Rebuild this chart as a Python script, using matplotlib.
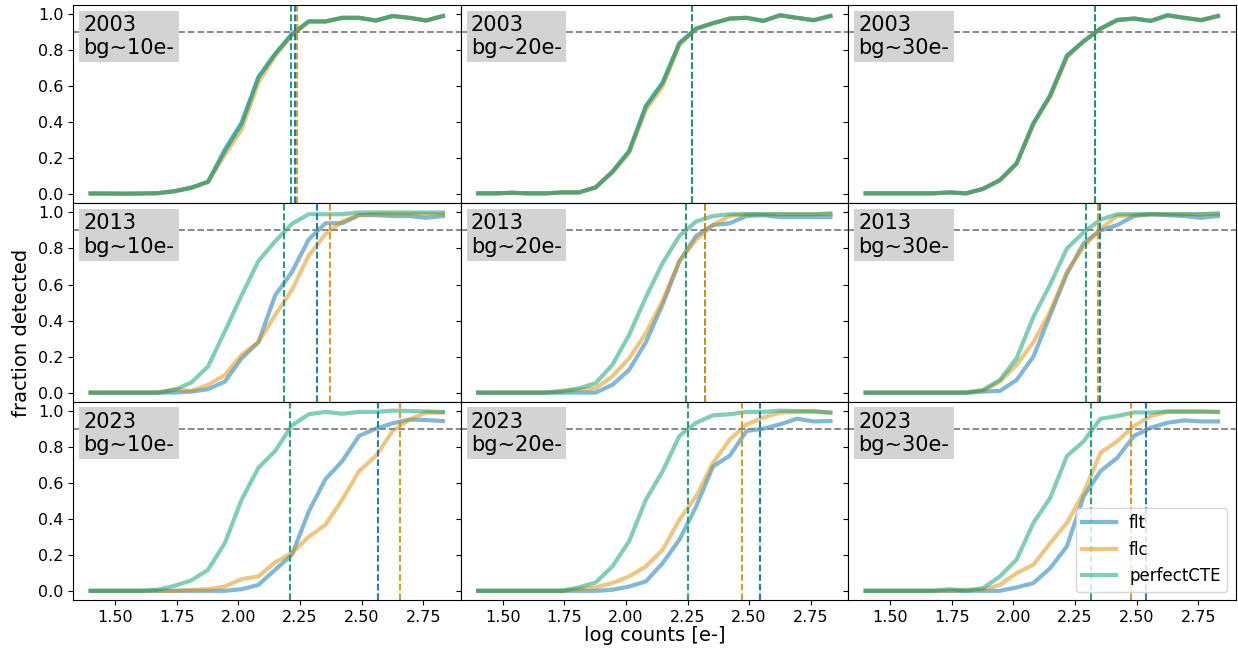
import numpy as np
import matplotlib
matplotlib.use("Agg")
import matplotlib.pyplot as plt

# bins in log counts
x = np.linspace(1.40, 2.83, 22)

years = ["2003", "2013", "2023"]
bgs = ["10", "20", "30"]
labels = ["flt", "flc", "perfectCTE"]
colors = ["#0173b2", "#de8f05", "#029e73"]

# fraction detected, one list per background (10, 20, 30 e-)
flt_2003 = [
    [0.005, 0.005, 0.004, 0.005, 0.007, 0.018, 0.037, 0.07, 0.25, 0.40, 0.65, 0.78, 0.89, 0.96, 0.96, 0.98, 0.98, 0.965, 0.99, 0.98, 0.965, 0.99],
    [0.006, 0.006, 0.009, 0.006, 0.006, 0.011, 0.011, 0.039, 0.126, 0.24, 0.49, 0.62, 0.84, 0.92, 0.95, 0.976, 0.98, 0.963, 0.994, 0.98, 0.967, 0.99],
    [0.006, 0.006, 0.006, 0.006, 0.006, 0.011, 0.006, 0.031, 0.079, 0.172, 0.394, 0.55, 0.77, 0.85, 0.92, 0.97, 0.976, 0.963, 0.994, 0.98, 0.967, 0.99],
]
flc_2003 = [
    [0.005, 0.005, 0.004, 0.005, 0.007, 0.018, 0.037, 0.07, 0.22, 0.36, 0.62, 0.77, 0.88, 0.96, 0.96, 0.98, 0.98, 0.965, 0.99, 0.98, 0.965, 0.99],
    [0.006, 0.006, 0.009, 0.006, 0.006, 0.011, 0.011, 0.039, 0.12, 0.23, 0.47, 0.60, 0.83, 0.92, 0.95, 0.976, 0.98, 0.963, 0.994, 0.98, 0.967, 0.99],
    [0.006, 0.006, 0.006, 0.006, 0.006, 0.011, 0.006, 0.031, 0.079, 0.17, 0.39, 0.54, 0.76, 0.85, 0.92, 0.965, 0.976, 0.963, 0.994, 0.98, 0.967, 0.99],
]
cte_2003 = [
    [0.005, 0.005, 0.004, 0.005, 0.007, 0.018, 0.037, 0.07, 0.24, 0.39, 0.65, 0.78, 0.89, 0.96, 0.96, 0.98, 0.98, 0.965, 0.99, 0.98, 0.965, 0.99],
    [0.006, 0.006, 0.009, 0.006, 0.006, 0.011, 0.011, 0.039, 0.126, 0.24, 0.49, 0.62, 0.84, 0.92, 0.95, 0.976, 0.98, 0.963, 0.994, 0.98, 0.967, 0.99],
    [0.006, 0.006, 0.006, 0.006, 0.006, 0.011, 0.006, 0.031, 0.079, 0.172, 0.394, 0.55, 0.77, 0.85, 0.92, 0.967, 0.976, 0.963, 0.994, 0.98, 0.967, 0.99],
]

flt_2013 = [
    [0.0, 0.0, 0.0, 0.0, 0.0, 0.0, 0.006, 0.019, 0.061, 0.19, 0.28, 0.54, 0.67, 0.85, 0.94, 0.94, 0.985, 0.985, 0.98, 0.98, 0.97, 0.98],
    [0.0, 0.0, 0.0, 0.0, 0.0, 0.0, 0.0, 0.0, 0.043, 0.126, 0.28, 0.49, 0.73, 0.87, 0.93, 0.94, 0.98, 0.985, 0.974, 0.974, 0.974, 0.974],
    [0.0, 0.0, 0.0, 0.0, 0.0, 0.0, 0.0, 0.006, 0.009, 0.07, 0.20, 0.43, 0.66, 0.83, 0.90, 0.93, 0.98, 0.99, 0.985, 0.98, 0.97, 0.98],
]
flc_2013 = [
    [0.0, 0.0, 0.0, 0.0, 0.0, 0.019, 0.009, 0.043, 0.098, 0.21, 0.28, 0.43, 0.57, 0.76, 0.88, 0.95, 0.985, 0.99, 0.99, 0.99, 0.99, 0.99],
    [0.0, 0.0, 0.0, 0.0, 0.0, 0.011, 0.015, 0.024, 0.09, 0.19, 0.33, 0.51, 0.73, 0.85, 0.93, 0.98, 0.99, 0.99, 0.99, 0.99, 0.99, 0.99],
    [0.0, 0.0, 0.0, 0.0, 0.0, 0.0, 0.0, 0.009, 0.061, 0.154, 0.28, 0.45, 0.67, 0.81, 0.91, 0.98, 0.985, 0.99, 0.99, 0.99, 0.99, 0.99],
]
cte_2013 = [
    [0.0, 0.0, 0.0, 0.0, 0.0, 0.015, 0.056, 0.145, 0.34, 0.54, 0.73, 0.84, 0.937, 0.99, 0.99, 0.99, 1.0, 1.0, 1.0, 1.0, 1.0, 1.0],
    [0.0, 0.0, 0.0, 0.0, 0.0, 0.006, 0.024, 0.052, 0.154, 0.32, 0.53, 0.72, 0.87, 0.95, 0.98, 0.99, 0.99, 0.99, 0.99, 0.99, 0.99, 0.995],
    [0.0, 0.0, 0.0, 0.0, 0.0, 0.0, 0.0, 0.015, 0.07, 0.19, 0.42, 0.60, 0.80, 0.89, 0.96, 0.99, 0.99, 0.99, 0.99, 0.99, 0.99, 0.995],
]

flt_2023 = [
    [0.0, 0.0, 0.0, 0.0, 0.0, 0.0, 0.0, 0.0, 0.0, 0.009, 0.033, 0.117, 0.20, 0.44, 0.62, 0.72, 0.86, 0.90, 0.93, 0.95, 0.948, 0.942],
    [0.0, 0.0, 0.0, 0.0, 0.0, 0.0, 0.0, 0.0, 0.006, 0.024, 0.052, 0.154, 0.284, 0.469, 0.69, 0.75, 0.887, 0.90, 0.924, 0.955, 0.94, 0.942],
    [0.0, 0.0, 0.0, 0.0, 0.0, 0.0, 0.0, 0.0, 0.0, 0.019, 0.043, 0.126, 0.247, 0.525, 0.664, 0.738, 0.86, 0.905, 0.933, 0.946, 0.94, 0.94],
]
flc_2023 = [
    [0.0, 0.0, 0.0, 0.0, 0.0, 0.0, 0.006, 0.009, 0.024, 0.065, 0.08, 0.158, 0.21, 0.30, 0.367, 0.506, 0.664, 0.748, 0.887, 0.95, 0.989, 0.989],
    [0.0, 0.0, 0.0, 0.0, 0.0, 0.0, 0.009, 0.019, 0.043, 0.08, 0.135, 0.228, 0.395, 0.525, 0.71, 0.84, 0.924, 0.961, 0.989, 0.993, 0.996, 0.989],
    [0.0, 0.0, 0.0, 0.0, 0.0, 0.0, 0.006, 0.006, 0.033, 0.098, 0.145, 0.265, 0.377, 0.544, 0.766, 0.83, 0.915, 0.97, 0.993, 0.993, 0.993, 0.993],
]
cte_2023 = [
    [0.0, 0.0, 0.0, 0.0, 0.006, 0.028, 0.058, 0.117, 0.265, 0.506, 0.683, 0.776, 0.918, 0.98, 0.993, 0.983, 0.993, 0.993, 1.0, 0.998, 0.996, 0.993],
    [0.0, 0.0, 0.0, 0.0, 0.0, 0.0, 0.019, 0.046, 0.135, 0.275, 0.506, 0.664, 0.86, 0.933, 0.974, 0.98, 0.993, 0.993, 1.0, 0.998, 0.996, 0.989],
    [0.0, 0.0, 0.0, 0.0, 0.0, 0.009, 0.0, 0.015, 0.08, 0.173, 0.377, 0.516, 0.748, 0.83, 0.955, 0.97, 0.99, 0.99, 0.996, 0.996, 0.996, 0.993],
]

# log counts where each curve reaches 90 % completeness
thr_flt = [[2.23, 2.268, 2.333], [2.32, 2.32, 2.351], [2.565, 2.545, 2.539]]
thr_flc = [[2.237, 2.268, 2.333], [2.371, 2.32, 2.343], [2.657, 2.47, 2.477]]
thr_cte = [[2.213, 2.268, 2.333], [2.185, 2.242, 2.296], [2.21, 2.252, 2.316]]

flt_all = [flt_2003, flt_2013, flt_2023]
flc_all = [flc_2003, flc_2013, flc_2023]
cte_all = [cte_2003, cte_2013, cte_2023]

fig, axes = plt.subplots(3, 3, figsize=(12.38, 6.52), sharex=True, sharey=True)
fig.subplots_adjust(left=0.059, right=0.998, top=0.992, bottom=0.08, wspace=0, hspace=0)

for r in range(3):
    for c in range(3):
        ax = axes[r, c]
        series = [flt_all[r][c], flc_all[r][c], cte_all[r][c]]
        thrs = [thr_flt[r][c], thr_flc[r][c], thr_cte[r][c]]
        for ys, lab, col in zip(series, labels, colors):
            ax.plot(x, ys, color=col, alpha=0.5, lw=3, label=lab)
        for t, col in zip(thrs, colors):
            ax.axvline(t, color=col, ls="--", lw=1.3)
        ax.axhline(0.9, color="gray", ls="--", lw=1.3)
        ax.text(0.027, 0.95, years[r] + "\nbg~" + bgs[c] + "e-", transform=ax.transAxes,
                va="top", ha="left", fontsize=15,
                bbox=dict(facecolor="lightgray", edgecolor="none", pad=3))
        ax.tick_params(labelsize=11.5)

axes[0, 0].set_yticks([0.0, 0.2, 0.4, 0.6, 0.8, 1.0])
axes[2, 0].set_xticks([1.5, 1.75, 2.0, 2.25, 2.5, 2.75])
axes[2, 2].legend(loc="lower right", fontsize=12)

fig.text(0.529, 0.01, "log counts [e-]", ha="center", va="bottom", fontsize=14)
fig.text(0.01, 0.49, "fraction detected", rotation=90, ha="left", va="center", fontsize=14)

fig.savefig("out.png", dpi=100)
